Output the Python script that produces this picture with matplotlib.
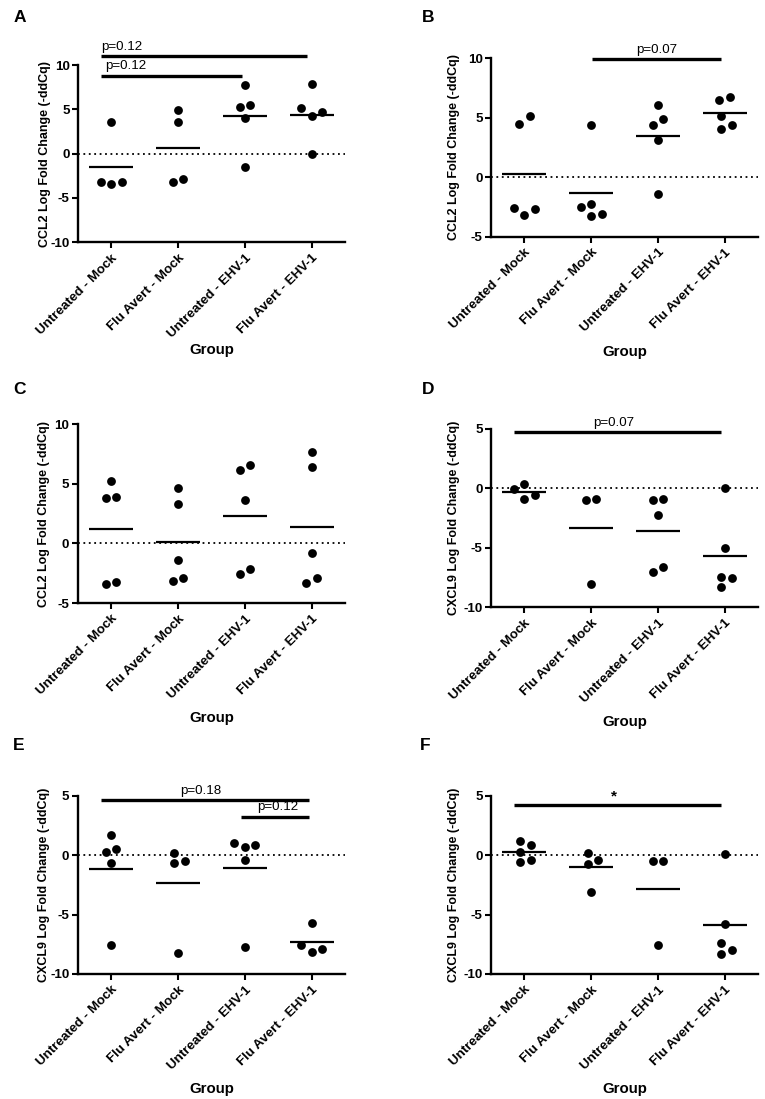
import numpy as np
import matplotlib
matplotlib.use("Agg")
import matplotlib.pyplot as plt

plt.rcParams['font.family'] = ['Liberation Sans', 'DejaVu Sans']
plt.rcParams['axes.unicode_minus'] = False

groups = ["Untreated - Mock", "Flu Avert - Mock", "Untreated - EHV-1", "Flu Avert - EHV-1"]

# Panel data
A_vals = [[3.6, -3.2, -3.4, -3.2],
          [4.96, 3.6, -3.2, -2.9],
          [7.8, 5.26, 5.5, 4.0, -1.5],
          [7.9, 4.7, 4.2, 5.2, 0.0]]
B_vals = [[5.14, 4.5, -2.55, -3.2, -2.65],
          [4.43, -2.53, -2.28, -3.3, -3.12],
          [6.11, 4.43, 4.93, 3.1, -1.43],
          [6.48, 6.76, 5.13, 4.09, 4.43]]
C_vals = [[5.21, 3.87, 3.8, -3.42, -3.25],
          [4.65, 3.3, -1.4, -3.17, -2.89],
          [6.19, 6.55, 3.61, -2.58, -2.16],
          [7.65, 6.41, -0.79, -3.28, -2.94]]
D_vals = [[-0.08, 0.39, -0.87, -0.59],
          [-0.9, -1.01, -8.0],
          [-1.0, -0.9, -2.27, -7.06, -6.59],
          [0.0, -5.0, -7.43, -7.56, -8.26]]
E_vals = [[1.72, 0.29, 0.51, -0.64, -7.58],
          [-0.5, -0.67, 0.17, -8.26],
          [1.04, 0.65, 0.84, -0.42, -7.72],
          [-5.75, -7.6, -8.11, -7.92]]
F_vals = [[0.29, 1.21, 0.88, -0.59, -0.45],
          [0.2, -0.42, -0.72, -3.14],
          [-0.51, -0.53, -7.6],
          [0.08, -5.81, -7.38, -8.28, -7.97]]

panel_letters = ["A", "B", "C", "D", "E", "F"]
ylabels = ["CCL2 Log Fold Change (-ddCq)"] * 3 + ["CXCL9 Log Fold Change (-ddCq)"] * 3
ylims = [(-10, 10), (-5, 10), (-5, 10), (-10, 5), (-10, 5), (-10, 5)]
all_vals = [A_vals, B_vals, C_vals, D_vals, E_vals, F_vals]

# significance annotations: (x_start, x_end, y, label, text_x, ha)
sig_A = [(-0.15, 2.93, 11.0, "p=0.12", -0.15, "left"),
         (-0.15, 1.95, 8.8, "p=0.12", -0.09, "left")]
sig_B = [(1.02, 2.95, 9.94, "p=0.07", 1.98, "center")]
sig_C = []
sig_D = [(-0.16, 2.95, 4.71, "p=0.07", 1.34, "center")]
sig_E = [(-0.15, 2.96, 4.63, "p=0.18", 1.34, "center"),
         (1.95, 2.96, 3.23, "p=0.12", 2.5, "center")]
sig_F = [(-0.16, 2.95, 4.25, "*", 1.34, "center")]
all_sig = [sig_A, sig_B, sig_C, sig_D, sig_E, sig_F]

W, H = 765, 1099
fig = plt.figure(figsize=(W / 100, H / 100), dpi=100)

# axes rectangles in pixels: left, top, right, bottom
rects = [(78, 65, 345, 242.3), (491, 58.3, 758, 236.7),
         (77.7, 424.3, 345, 603), (491, 429, 758, 607.3),
         (77.7, 795.7, 345, 974), (491, 795.7, 758, 974)]
letter_pos = [(20, 18), (428, 17), (19, 389), (428, 390), (19, 745), (425, 745)]
xlabel_y = [-0.607, -0.645, -0.645, -0.642, -0.645, -0.645]
ylabel_x = [-0.125, -0.14, -0.127, -0.14, -0.127, -0.14]


def swarm(vals, xpx, ypx, d_px=10.5, thr=9.8):
    vals = np.asarray(vals, float)
    order = np.argsort(vals)
    placed = []
    offs = np.zeros(len(vals))
    for idx in order:
        y = vals[idx] * ypx
        for k in [0, 1, -1, 2, -2, 3, -3]:
            xo = k * d_px
            if all(np.hypot(xo - px, y - py) >= thr for px, py in placed):
                break
        placed.append((xo, y))
        offs[idx] = xo
    ys = vals * ypx
    srt = list(order)
    clusters = [[srt[0]]]
    for a in srt[1:]:
        if ys[a] - ys[clusters[-1][-1]] < thr:
            clusters[-1].append(a)
        else:
            clusters.append([a])
    for c in clusters:
        offs[c] = offs[c] - offs[c].mean()
    return offs / xpx


for p in range(6):
    l, t, r, b = rects[p]
    ax = fig.add_axes([l / W, 1 - b / H, (r - l) / W, (b - t) / H])
    ax.set_xlim(-0.5, 3.5)
    ax.set_ylim(*ylims[p])
    lo, hi = ylims[p]
    ax.set_yticks(np.arange(lo, hi + 1, 5))
    ax.set_xticks(range(4))
    ax.set_xticklabels(groups, rotation=45, ha="right", rotation_mode="anchor",
                       fontsize=9.6, fontweight="bold")
    for lab in ax.get_yticklabels():
        lab.set_fontsize(9.6)
        lab.set_fontweight("bold")
    for s in ["top", "right"]:
        ax.spines[s].set_visible(False)
    for s in ["left", "bottom"]:
        ax.spines[s].set_linewidth(1.7)
    ax.tick_params(direction="out", length=4, width=1.5, pad=2)
    ax.tick_params(axis="x", pad=3)

    ax.axhline(0, color="black", lw=1.3, ls=(0, (1, 2.0)), zorder=1)

    xpx = (r - l) / 4.0
    ypx = (b - t) / (hi - lo)
    for g, vals in enumerate(all_vals[p]):
        offs = swarm(vals, xpx, ypx)
        ax.scatter(g + offs, vals, s=40, color="black", zorder=3,
                   linewidths=0, clip_on=False)
        m = np.mean(vals)
        ax.plot([g - 0.33, g + 0.33], [m, m], color="black", lw=1.6, zorder=2,
                solid_capstyle="butt")

    for (x0, x1, y, lab, tx, ha) in all_sig[p]:
        ax.plot([x0, x1], [y, y], color="black", lw=2.4, clip_on=False,
                solid_capstyle="butt")
        if lab == "*":
            ax.annotate(lab, (tx, y), xytext=(0, 1.0), textcoords="offset points",
                        ha=ha, va="bottom", fontsize=11, fontweight="bold",
                        annotation_clip=False)
        else:
            ax.annotate(lab, (tx, y), xytext=(0, 2.5), textcoords="offset points",
                        ha=ha, va="bottom", fontsize=9.6,
                        annotation_clip=False)

    ax.set_xlabel("Group", fontsize=10.8, fontweight="bold")
    ax.xaxis.set_label_coords(0.5, xlabel_y[p])
    ax.xaxis.label.set_va("center")
    ax.set_ylabel(ylabels[p], fontsize=9.0, fontweight="bold")
    ax.yaxis.set_label_coords(ylabel_x[p], 0.5)
    ax.yaxis.label.set_va("center")

    lx, ly = letter_pos[p]
    fig.text(lx / W, 1 - ly / H, panel_letters[p], fontsize=12.5, fontweight="bold",
             ha="center", va="center")

fig.savefig("out.png", dpi=100)
